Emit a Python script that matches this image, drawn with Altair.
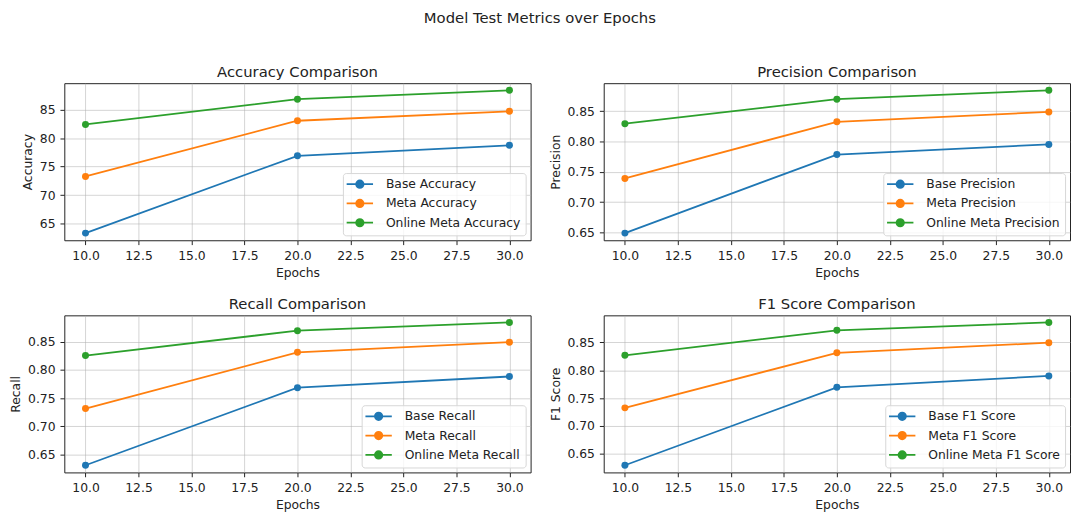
import altair as alt
import pandas as pd

epochs = [10, 20, 30]
prefixes = ["Base", "Meta", "Online Meta"]
colors = ["#1f77b4", "#ff7f0e", "#2ca02c"]
x_ticks = [10, 12.5, 15, 17.5, 20, 22.5, 25, 27.5, 30]

accuracy_base = [63.33, 76.90, 78.74]
accuracy_meta = [73.28, 83.05, 84.71]
accuracy_online = [82.41, 86.84, 88.39]

precision_base = [0.649, 0.7786, 0.7954]
precision_meta = [0.7392, 0.8327, 0.8489]
precision_online = [0.8295, 0.8700, 0.8846]

recall_base = [0.6308, 0.7686, 0.7884]
recall_meta = [0.7314, 0.8314, 0.8494]
recall_online = [0.8256, 0.8698, 0.8843]

f1_base = [0.6295, 0.7693, 0.7898]
f1_meta = [0.7325, 0.8313, 0.8494]
f1_online = [0.8267, 0.8717, 0.8857]

acc_ticks = [65, 70, 75, 80, 85]
frac_ticks = [0.65, 0.70, 0.75, 0.80, 0.85]

FONT = "DejaVu Sans"
PW, PH = 472, 159
LBL = 12.5
TTL = 15
# legend handle: a line with a filled circle on it (unit = 5 px)
HANDLE = ("M-1.49,0L3.85,0"
          "M1.93,0A0.75,0.75,0,1,1,0.43,0A0.75,0.75,0,1,1,1.93,0Z")


def padded(vals):
    lo, hi = min(vals), max(vals)
    m = (hi - lo) * 0.05
    return [lo - m, hi + m]


def panel(metric, title, series, ticks, fmt):
    names = [f"{p} {metric}" for p in prefixes]
    rows = []
    for name, vals in zip(names, series):
        for e, v in zip(epochs, vals):
            rows.append({"Epochs": e, "Value": v, "Series": name})
    df = pd.DataFrame(rows)
    allv = [v for s in series for v in s]
    color = alt.Color(
        "Series:N",
        sort=names,
        scale=alt.Scale(domain=names, range=colors),
        legend=alt.Legend(
            title=None,
            orient="bottom-right",
            offset=5,
            symbolType=HANDLE,
            symbolSize=100,
            symbolStrokeWidth=1.8,
            labelFont=FONT,
            labelFontSize=LBL,
            labelColor="#222",
            labelOffset=26,
            rowPadding=3.5,
            padding=5,
            fillColor="rgba(255,255,255,0.8)",
            strokeColor="#d6d6d6",
            cornerRadius=3,
        ),
    )
    base = alt.Chart(df).encode(
        x=alt.X(
            "Epochs:Q",
            scale=alt.Scale(domain=[9, 31], nice=False, zero=False),
            axis=alt.Axis(values=x_ticks, format=".1f", title="Epochs"),
        ),
        y=alt.Y(
            "Value:Q",
            scale=alt.Scale(domain=padded(allv), nice=False, zero=False),
            axis=alt.Axis(values=ticks, format=fmt, title=metric),
        ),
        color=color,
    )
    line = base.mark_line(strokeWidth=1.8)
    pts = base.mark_point(filled=True, size=50, opacity=1, shape="circle")
    return alt.layer(line, pts).properties(width=PW, height=PH, title=title)


p1 = panel("Accuracy", "Accuracy Comparison",
           [accuracy_base, accuracy_meta, accuracy_online], acc_ticks, "d")
p2 = panel("Precision", "Precision Comparison",
           [precision_base, precision_meta, precision_online], frac_ticks, ".2f")
p3 = panel("Recall", "Recall Comparison",
           [recall_base, recall_meta, recall_online], frac_ticks, ".2f")
p4 = panel("F1 Score", "F1 Score Comparison",
           [f1_base, f1_meta, f1_online], frac_ticks, ".2f")

row1 = alt.hconcat(p1, p2, spacing=17).resolve_scale(color="independent").resolve_legend(color="independent")
row2 = alt.hconcat(p3, p4, spacing=17).resolve_scale(color="independent").resolve_legend(color="independent")

chart = (
    alt.vconcat(row1, row2, spacing=17)
    .resolve_scale(color="independent")
    .resolve_legend(color="independent")
    .properties(
        title=alt.TitleParams("Model Test Metrics over Epochs", anchor="middle",
                              font=FONT, fontSize=TTL, fontWeight="normal",
                              color="#222", offset=39),
        padding={"left": 1, "top": 0, "right": 0, "bottom": 0},
    )
    .configure_view(stroke="#222", strokeWidth=1)
    .configure_axis(
        domain=False,
        grid=True,
        gridColor="#b0b0b0",
        gridOpacity=0.55,
        gridWidth=1,
        ticks=True,
        tickColor="#222",
        tickSize=4.4,
        tickWidth=1,
        labelFont=FONT,
        labelFontSize=LBL,
        labelColor="#222",
        labelPadding=5,
        titleFont=FONT,
        titleFontSize=LBL,
        titleFontWeight="normal",
        titleColor="#222",
        titlePadding=5,
    )
    .configure_title(font=FONT, fontSize=TTL, fontWeight="normal", color="#222", offset=3)
)

chart.save("out.html", embed_options={"renderer": "svg", "actions": False})
